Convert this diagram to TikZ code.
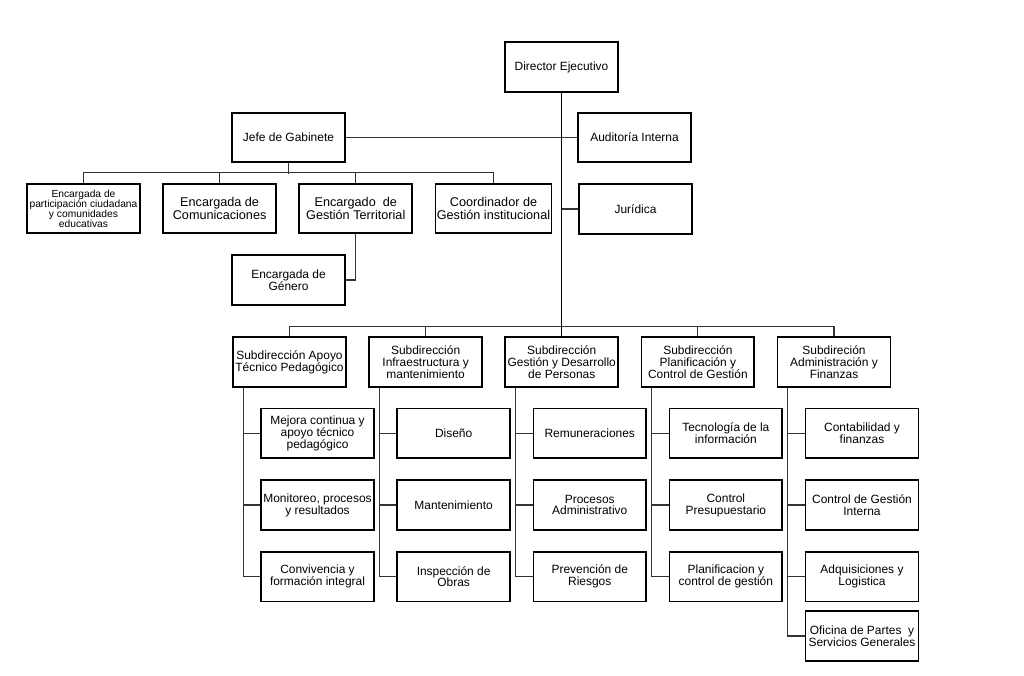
\documentclass[tikz,border=0pt]{standalone}
\usepackage{fontspec}
\setmainfont{Liberation Sans}
\usepackage{xcolor}
\usepackage{tikz}
\usetikzlibrary{positioning,calc}
\definecolor{linea}{HTML}{333333}

\begin{document}
\begin{tikzpicture}[
  x=0.025cm,y=-0.025cm,
  node distance=5.1mm and 5.4mm,
  box/.style={draw=black,line width=1.2pt,minimum width=28.2mm,minimum height=12.4mm,
              align=center,inner sep=1pt,font=\fontsize{8.5}{8.4}\selectfont},
  smallbox/.style={box,font=\fontsize{7.3}{7.1}\selectfont},
  bigbox/.style={box,font=\fontsize{9}{8.6}\selectfont},
  conn/.style={draw=linea,line width=0.8pt},
  trunk/.style={draw=black,line width=1.3pt}
]
\useasboundingbox (0,0) rectangle (1024,676);

% direccion
\node[box] (dir) at (561.5,67) {Director Ejecutivo};
\node[box] (jefe) at (288.5,137.5) {Jefe de Gabinete};
\node[box] (aud) at (634.5,137.5) {Auditoría Interna};
\node[box] (jur) at (635.5,209) {Jurídica};

% gabinete
\node[smallbox] (e1) at (83.5,208.5) {Encargada de\\participación ciudadana\\y comunidades\\educativas};
\node[bigbox,right=of e1] (e2) {Encargada de\\Comunicaciones};
\node[bigbox,right=of e2] (e3) {Encargado \ de\\Gestión Territorial};
\node[bigbox,right=of e3] (e4) {Coordinador de\\Gestión institucional};
\node[box] (gen) at (288.5,280) {Encargada de\\Género};

% subdirecciones
\node[box] (s1) at (289.5,362) {Subdirección Apoyo\\Técnico Pedagógico};
\node[box,right=of s1] (s2) {Subdirección\\Infraestructura y\\mantenimiento};
\node[box,right=of s2] (s3) {Subdirección\\Gestión y Desarrollo\\de Personas};
\node[box,right=of s3] (s4) {Subdirección\\Planificación y\\Control de Gestión};
\node[box,right=of s4] (s5) {Subdireción\\Administración y\\Finanzas};

\node[box,below=5mm of s1,xshift=7mm] (s1a) {Mejora continua y\\apoyo técnico\\pedagógico};
\node[box,below=of s1a] (s1b) {Monitoreo, procesos\\y resultados};
\node[box,below=of s1b] (s1c) {Convivencia y\\formación integral};

\node[box,below=5mm of s2,xshift=7mm] (s2a) {Diseño};
\node[box,below=of s2a] (s2b) {Mantenimiento};
\node[box,below=of s2b] (s2c) {Inspección de\\Obras};

\node[box,below=5mm of s3,xshift=7mm] (s3a) {Remuneraciones};
\node[box,below=of s3a] (s3b) {Procesos\\Administrativo};
\node[box,below=of s3b] (s3c) {Prevención de\\Riesgos};

\node[box,below=5mm of s4,xshift=7mm] (s4a) {Tecnología de la\\información};
\node[box,below=of s4a] (s4b) {Control\\Presupuestario};
\node[box,below=of s4b] (s4c) {Planificacion y\\control de gestión};

\node[box,below=5mm of s5,xshift=7mm] (s5a) {Contabilidad y\\finanzas};
\node[box,below=of s5a] (s5b) {Control de Gestión\\Interna};
\node[box,below=of s5b] (s5c) {Adquisiciones y\\Logistica};
\node[box,below=2mm of s5c] (s5d) {Oficina de Partes \ y\\Servicios Generales};

% lineas
\draw[trunk] (dir.south) -- (dir.south |- s3.north);
\draw[conn] (jefe) -- (aud);
\draw[conn] (jur.west) -- (jur.west -| dir.south);
\draw[conn] (jefe.south) -- ++(0,11);
\draw[conn] (e1.north) -- ++(0,-10) -| (e4.north);
\draw[conn] (e2.north) -- ++(0,-10);
\draw[conn] (e3.north) -- ++(0,-10);
\draw[conn] (e3.south) |- (gen.east);
\draw[conn] (s1.north) -- ++(0,-10) -| (s5.north);
\draw[conn] (s2.north) -- ++(0,-10);
\draw[conn] (s4.north) -- ++(0,-10);

\coordinate (c1) at ($(s1.south west)+(11,0)$);
\coordinate (c2) at ($(s2.south west)+(11,0)$);
\coordinate (c3) at ($(s3.south west)+(11,0)$);
\coordinate (c4) at ($(s4.south west)+(11,0)$);
\coordinate (c5) at ($(s5.south west)+(11,0)$);

\draw[conn] (c1) |- (s1c.west) (c1 |- s1a.west) -- (s1a.west) (c1 |- s1b.west) -- (s1b.west);
\draw[conn] (c2) |- (s2c.west) (c2 |- s2a.west) -- (s2a.west) (c2 |- s2b.west) -- (s2b.west);
\draw[conn] (c3) |- (s3c.west) (c3 |- s3a.west) -- (s3a.west) (c3 |- s3b.west) -- (s3b.west);
\draw[conn] (c4) |- (s4c.west) (c4 |- s4a.west) -- (s4a.west) (c4 |- s4b.west) -- (s4b.west);
\draw[conn] (c5) |- (s5d.west) (c5 |- s5a.west) -- (s5a.west) (c5 |- s5b.west) -- (s5b.west)
  (c5 |- s5c.west) -- (s5c.west);
\end{tikzpicture}
\end{document}
